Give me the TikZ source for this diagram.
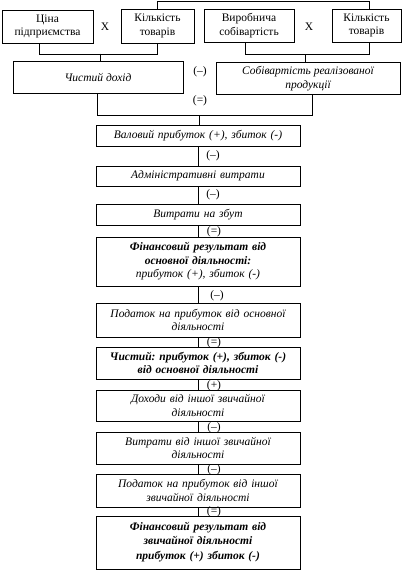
\documentclass[tikz,border=0pt]{standalone}
\usepackage{fontspec}
\setmainfont{Liberation Serif}
\frenchspacing
\begin{document}
\begin{tikzpicture}[x=1pt,y=-1pt,
  line width=0.8pt,
  box/.style={draw, line width=0.8pt, inner sep=1pt, align=center,
    font=\fontsize{11.5}{13.5}\selectfont},
  mbox/.style={box, minimum width=204pt, text width=200pt},
  lbl/.style={inner sep=0pt, font=\fontsize{11.5}{13.5}\selectfont}]
\useasboundingbox (0,0) rectangle (407,571);

% top row
\node[box, minimum width=91pt, minimum height=33pt] (p1) at (47.5,26.5) {Ціна\\підприємства};
\node[box, minimum width=73pt, minimum height=34pt] (k1) at (157.5,26) {Кількість\\товарів};
\node[box, minimum width=90pt, minimum height=33pt] (v1) at (249,25.5) {Виробнича\\собівартість};
\node[box, minimum width=69pt, minimum height=33pt] (k2) at (366.5,25.5) {Кількість\\товарів};
\node[lbl] (x1) at (105,27) {Х};
\node[lbl] (x2) at (309,27) {Х};

% second row
\node[box, minimum width=170pt, minimum height=32pt] (chd) at (98,77.5) {\itshape Чистий дохід};
\node[box, minimum width=184pt, minimum height=32pt] (sob) at (308,78.5) {\itshape Собівартість реалізованої\\ \itshape продукції};
\node[lbl] (m1) at (200,72) {(–)};
\node[lbl] (e1) at (200,101) {(=)};

% main column
\node[mbox, minimum height=21pt] (val) at (198,135.5) {\itshape Валовий прибуток (+), збиток (-)};
\node[mbox, minimum height=20pt] (adm) at (198,176) {\itshape Адміністративні витрати};
\node[mbox, minimum height=21pt] (zbut) at (198,214.5) {\itshape Витрати на збут};
\node[mbox, minimum height=49pt] (fin1) at (198,261.5) {\bfseries\itshape Фінансовий результат від\\ \bfseries\itshape основної діяльності:\\ \mdseries\itshape прибуток (+), збиток (-)};
\node[mbox, minimum height=34pt] (pod1) at (198,320) {\itshape Податок на прибуток від основної\\ \itshape діяльності};
\node[mbox, minimum height=32pt] (chyst) at (198,363) {\bfseries\itshape Чистий: прибуток (+), збиток (-)\\ \bfseries\itshape від основної діяльності};
\node[mbox, minimum height=31pt] (dokh) at (198,405.5) {\itshape Доходи від іншої звичайної\\ \itshape діяльності};
\node[mbox, minimum height=32pt] (vytr) at (198,448) {\itshape Витрати від іншої звичайної\\ \itshape діяльності};
\node[mbox, minimum height=33pt] (pod2) at (198,490.5) {\itshape Податок на прибуток від іншої\\ \itshape звичайної діяльності};
\node[mbox, minimum height=53pt] (fin2) at (198,542.5) {\bfseries\itshape Фінансовий результат від\\ \bfseries\itshape звичайної діяльності\\[2pt] \bfseries\itshape прибуток (+) збиток (-)};

% connectors top
\draw (k1.north) -- ++(0,-7.5) -| ([xshift=2.5pt]k2.north);
\draw ([xshift=-8.5pt]p1.south) -- ++(0,10.5) -| (k1.south);
\draw ([xshift=-4pt]v1.south) -- ++(0,12) -| ([xshift=2.5pt]k2.south);
\coordinate (b1) at (100,53.5);
\coordinate (b2) at (305,54);
\draw (b1) -- (b1 |- chd.north);
\draw (b2) -- (b2 |- sob.north);
\draw ([xshift=-1pt]chd.south) -- ++(0,21.5) -| ([xshift=4pt]sob.south);
\coordinate (b3) at (199,115);
\draw (b3) -- (b3 |- val.north);

% main column connectors
\draw (val) -- (adm);
\draw (adm) -- (zbut);
\draw (zbut) -- (fin1);
\draw (fin1) -- (pod1);
\draw (pod1) -- (chyst);
\draw (chyst) -- (dokh);
\draw (dokh) -- (vytr);
\draw (vytr) -- (pod2);
\draw (pod2) -- (fin2);

% operator labels
\node[lbl] (o1) at (213,156) {(–)};
\node[lbl] (o2) at (213,195) {(–)};
\node[lbl] (o3) at (214,232) {(=)};
\node[lbl] (o4) at (217,296) {(–)};
\node[lbl] (o5) at (214,343) {(=)};
\node[lbl] (o6) at (214,386) {(+)};
\node[lbl] (o7) at (214,428) {(–)};
\node[lbl] (o8) at (214,470) {(–)};
\node[lbl] (o9) at (214,512) {(=)};
\end{tikzpicture}
\end{document}
